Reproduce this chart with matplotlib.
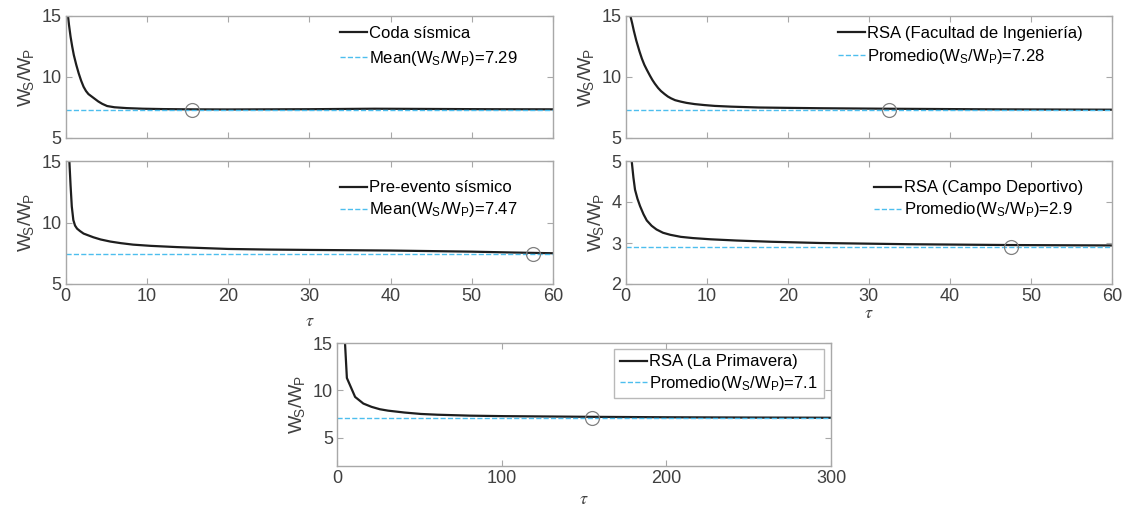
import matplotlib
matplotlib.use("Agg")
import matplotlib.pyplot as plt

plt.rcParams['font.family'] = ['Liberation Sans', 'DejaVu Sans']
plt.rcParams['mathtext.fontset'] = 'stix'

# --- data (tau, Ws/Wp) ---
coda_tau = [0.2, 0.4, 0.6, 0.8, 1.0, 1.3, 1.6, 1.9, 2.2, 2.5, 2.8, 3.2, 3.6, 4.0, 4.5, 5.1, 6.0, 7.5, 9.5, 12, 15, 20, 30, 38, 45, 52, 60]
coda_val = [15.5, 14.3, 13.3, 12.5, 11.8, 11.0, 10.3, 9.7, 9.2, 8.85, 8.6, 8.4, 8.2, 8.0, 7.8, 7.62, 7.52, 7.45, 7.4, 7.37, 7.35, 7.34, 7.36, 7.4, 7.38, 7.36, 7.35]
coda_mean = 7.29

pre_tau = [0.3, 0.45, 0.6, 0.75, 0.94, 1.15, 1.4, 1.77, 2.2, 2.8, 3.4, 4.3, 5.5, 6.8, 8.3, 10.5, 13.7, 17, 20, 25, 30, 40, 50, 55, 60]
pre_val = [16.0, 15.0, 13.0, 11.3, 10.2, 9.75, 9.5, 9.3, 9.1, 8.95, 8.8, 8.62, 8.45, 8.32, 8.2, 8.1, 8.0, 7.92, 7.85, 7.8, 7.77, 7.72, 7.63, 7.56, 7.5]
pre_mean = 7.47

fac_tau = [0.4, 0.58, 0.8, 1.0, 1.3, 1.7, 2.0, 2.3, 2.6, 3.0, 3.3, 3.6, 4.0, 4.35, 4.8, 5.2, 5.6, 6.1, 6.8, 7.5, 8.5, 9.7, 11, 13, 16.4, 20, 24, 32, 45, 60]
fac_val = [16.0, 15.0, 14.4, 13.8, 13.0, 12.1, 11.5, 11.0, 10.6, 10.1, 9.75, 9.45, 9.1, 8.85, 8.6, 8.4, 8.25, 8.1, 7.98, 7.88, 7.78, 7.7, 7.63, 7.57, 7.5, 7.47, 7.44, 7.4, 7.35, 7.32]
fac_mean = 7.28

campo_tau = [0.6, 0.74, 0.95, 1.15, 1.45, 1.77, 2.2, 2.6, 3.2, 3.8, 4.6, 5.5, 6.8, 8.3, 10.5, 13.7, 18, 24, 35, 47.5, 60]
campo_val = [5.2, 5.0, 4.6, 4.3, 4.08, 3.9, 3.7, 3.55, 3.42, 3.33, 3.25, 3.2, 3.15, 3.12, 3.09, 3.06, 3.03, 3.0, 2.97, 2.95, 2.94]
campo_mean = 2.9

prim_tau = [4.8, 6, 11, 16, 21, 26, 31, 41, 51, 61, 81, 101, 151, 201, 251, 300]
prim_val = [15.2, 11.3, 9.3, 8.6, 8.25, 8.0, 7.85, 7.65, 7.5, 7.42, 7.32, 7.27, 7.2, 7.15, 7.12, 7.1]
prim_mean = 7.1

# circle markers
circle_tau = [15.5, 57.5, 32.5, 47.5, 155]
circle_val = [7.29, 7.47, 7.28, 2.9, 7.1]

W, H = 1126, 515
fig = plt.figure(figsize=(W / 100, H / 100), dpi=100)


def add_ax(l, t, r, b):
    return fig.add_axes([l / W, 1 - b / H, (r - l) / W, (b - t) / H])


GRAY = '#a8a8a8'
TXT = '#404040'
YLAB = r'$\mathregular{W_{\!S}/W_{\!P}}$'


def style(ax, xlim, ylim, yticks, xticks, show_x=True):
    ax.set_xlim(*xlim)
    ax.set_ylim(*ylim)
    ax.set_yticks(yticks)
    ax.set_xticks(xticks)
    ax.tick_params(direction='in', top=True, right=True, length=4,
                   color=GRAY, labelcolor=TXT, labelsize=13, pad=3)
    if not show_x:
        ax.tick_params(labelbottom=False)
    for s in ax.spines.values():
        s.set_color(GRAY)
        s.set_linewidth(1.0)
    ax.set_ylabel(YLAB, fontsize=14, color=TXT, labelpad=4)


def panel(ax, tau, val, mean, lab, mlab, ci, xmax):
    ax.plot(tau, val, color='#1e1e1e', lw=1.6, label=lab)
    ax.plot([0, xmax], [mean, mean], '--', color='#4DBEEE', lw=1.0, label=mlab)
    ax.plot(circle_tau[ci], circle_val[ci], 'o', mfc='none', mec='#808080', ms=10, mew=0.9)


x60 = [0, 10, 20, 30, 40, 50, 60]
WL = r'($\mathregular{W_S/W_P}$)'

ax1 = add_ax(65.7, 16, 553, 138)
panel(ax1, coda_tau, coda_val, coda_mean, 'Coda sísmica', 'Mean' + WL + '=7.29', 0, 60)
style(ax1, (0, 60), (5, 15), [5, 10, 15], x60, show_x=False)
ax1.legend(loc='upper right', bbox_to_anchor=(0.945, 0.99), frameon=False, fontsize=12,
           borderpad=0, handlelength=1.6, handletextpad=0.15, labelspacing=0.5)

ax2 = add_ax(65.7, 161, 553, 284)
panel(ax2, pre_tau, pre_val, pre_mean, 'Pre-evento sísmico', 'Mean' + WL + '=7.47', 1, 60)
style(ax2, (0, 60), (5, 15), [5, 10, 15], x60)
ax2.legend(loc='upper right', bbox_to_anchor=(0.945, 0.91), frameon=False, fontsize=12,
           borderpad=0, handlelength=1.6, handletextpad=0.15, labelspacing=0.3)
ax2.set_xlabel(r'$\tau$', fontsize=13, color=TXT, labelpad=6)

ax3 = add_ax(625.7, 16, 1112, 138)
panel(ax3, fac_tau, fac_val, fac_mean, 'RSA (Facultad de Ingeniería)', 'Promedio' + WL + '=7.28', 2, 60)
style(ax3, (0, 60), (5, 15), [5, 10, 15], x60, show_x=False)
ax3.legend(loc='upper right', bbox_to_anchor=(0.957, 0.99), frameon=False, fontsize=12,
           borderpad=0, handlelength=1.6, handletextpad=0.15, labelspacing=0.4)

ax4 = add_ax(625.7, 161, 1112, 284)
panel(ax4, campo_tau, campo_val, campo_mean, 'RSA (Campo Deportivo)', 'Promedio' + WL + '=2.9', 3, 60)
style(ax4, (0, 60), (2, 5), [2, 3, 4, 5], x60)
ax4.legend(loc='upper right', bbox_to_anchor=(0.957, 0.91), frameon=False, fontsize=12,
           borderpad=0, handlelength=1.6, handletextpad=0.15, labelspacing=0.3)
ax4.set_xlabel(r'$\tau$', fontsize=13, color=TXT, labelpad=0)

ax5 = add_ax(337, 343, 831, 466)
panel(ax5, prim_tau, prim_val, prim_mean, 'RSA (La Primavera)', 'Promedio' + WL + '=7.1', 4, 300)
style(ax5, (0, 300), (2, 15), [5, 10, 15], [0, 100, 200, 300])
leg = ax5.legend(loc='upper right', bbox_to_anchor=(0.986, 0.955), frameon=True, fontsize=12,
                 borderpad=0.35, handlelength=1.6, handletextpad=0.15, labelspacing=0.25,
                 fancybox=False, borderaxespad=0)
leg.get_frame().set_edgecolor(GRAY)
leg.get_frame().set_linewidth(1.0)
ax5.set_xlabel(r'$\tau$', fontsize=13, color=TXT, labelpad=3)

fig.savefig('out.png', dpi=100)
